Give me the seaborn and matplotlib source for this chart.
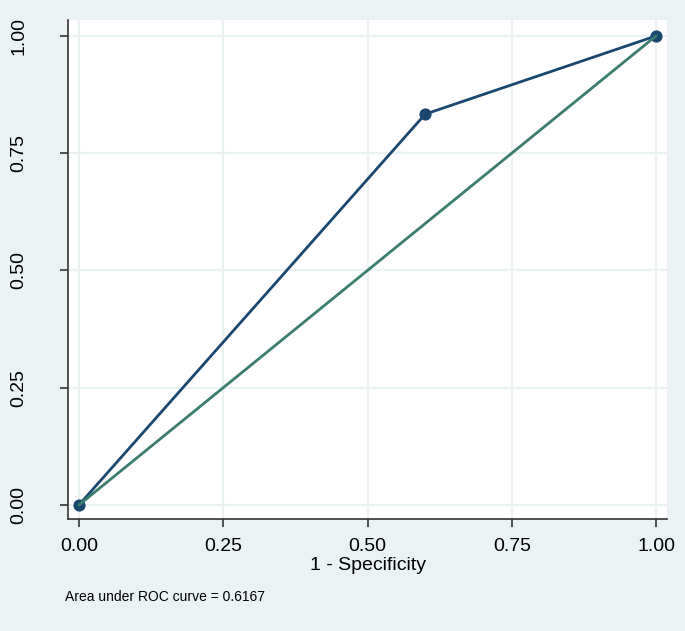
import matplotlib
matplotlib.use("Agg")
import matplotlib.pyplot as plt
import pandas as pd
import seaborn as sns

# ROC coordinates
fpr = [0.0, 0.6, 1.0]
tpr = [0.0, 0.8333, 1.0]
ref_x = [0.0, 1.0]
ref_y = [0.0, 1.0]
ticks = [0.0, 0.25, 0.5, 0.75, 1.0]
tick_labels = ["0.00", "0.25", "0.50", "0.75", "1.00"]
auc_text = "Area under ROC curve = 0.6167"

bg = "#EAF2F3"
navy = "#1A476F"
teal = "#3A7D6F"

sns.set_theme(style="white")
plt.rcParams["font.family"] = ["Liberation Sans", "DejaVu Sans"]
plt.rcParams["text.color"] = "black"
plt.rcParams["xtick.labelcolor"] = "black"
plt.rcParams["ytick.labelcolor"] = "black"

roc_df = pd.DataFrame({"fpr": fpr, "tpr": tpr})
ref_df = pd.DataFrame({"x": ref_x, "y": ref_y})

fig = plt.figure(figsize=(6.85, 6.31), dpi=100, facecolor=bg)
ax = fig.add_axes([0.0993, 0.1775, 0.8744, 0.7908])
ax.set_facecolor("white")

sns.lineplot(data=roc_df, x="fpr", y="tpr", ax=ax, color=navy, lw=2,
             marker="o", markersize=8, markeredgecolor=navy, sort=False, zorder=3)
sns.lineplot(data=ref_df, x="x", y="y", ax=ax, color=teal, lw=2, zorder=4)

ax.set_xlim(-0.019, 1.019)
ax.set_ylim(-0.03, 1.034)
ax.set_xticks(ticks)
ax.set_xticklabels(tick_labels, fontsize=14)
ax.set_yticks(ticks)
ax.set_yticklabels(tick_labels, fontsize=14, rotation=90, va="center")
ax.grid(True, color=bg, lw=1.6)
ax.set_axisbelow(True)

for side in ["top", "right"]:
    ax.spines[side].set_visible(False)
for side in ["left", "bottom"]:
    ax.spines[side].set_color("#333333")
    ax.spines[side].set_linewidth(1.2)
ax.tick_params(axis="both", direction="out", length=6, width=1.2,
               color="#333333", bottom=True, left=True)
ax.tick_params(axis="x", pad=8)
ax.tick_params(axis="y", pad=23)

ax.set_xlabel("1 - Specificity", fontsize=14, labelpad=1, color="black")
ax.set_ylabel("")

fig.text(0.095, 0.054, auc_text, fontsize=10, ha="left", va="center")

fig.savefig("out.png", dpi=100, facecolor=bg)
